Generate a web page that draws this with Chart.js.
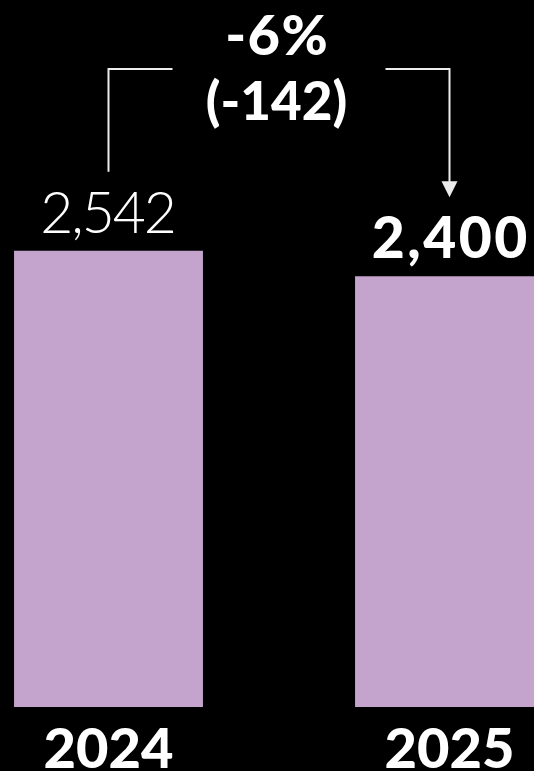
<!DOCTYPE html>
<html lang="en">
<head>
    <meta charset="UTF-8">
    <title>2024 vs 2025</title>
    <style>
        * { margin: 0; padding: 0; box-sizing: border-box; }
        body {
            background: #000;
            width: 534px;
            height: 771px;
            overflow: hidden;
            position: relative;
        }
        /* chart is a bit wider than the window so the second bar runs off the right edge */
        .chart-box {
            position: absolute;
            left: -62px;
            top: 0;
            width: 682px;
            height: 771px;
        }
    </style>
</head>
<body>
    <div class="chart-box">
        <canvas id="yearChart"></canvas>
    </div>

    <script src="https://cdn.jsdelivr.net/npm/chart.js"></script>
    <script>
        const years = ['2024', '2025'];
        const totals = [2542, 2400];
        const changePct = '-6%';
        const changeAbs = '(-142)';

        const barColor = '#c4a3cc';
        const lineColor = '#ececec';

        // centred text with letter spacing (trailing space would push it left)
        function spacedText(ctx, text, x, y, spacing) {
            ctx.letterSpacing = spacing + 'px';
            ctx.fillText(text, x + spacing / 2, y);
            ctx.letterSpacing = '0px';
        }

        // value labels, change note and bracket arrow
        const notesPlugin = {
            id: 'notes',
            afterDraw(chart) {
                const ctx = chart.ctx;
                const bars = chart.getDatasetMeta(0).data;
                const b1 = bars[0], b2 = bars[1];

                ctx.save();
                ctx.fillStyle = '#fff';
                ctx.textAlign = 'center';
                ctx.textBaseline = 'alphabetic';

                ctx.font = '300 57px Lato';
                spacedText(ctx, totals[0].toLocaleString('en-US'), b1.x, b1.y - 18, -2);
                ctx.font = '900 57px Lato';
                spacedText(ctx, totals[1].toLocaleString('en-US'), b2.x, b2.y - 18, 2.5);

                const midX = (b1.x + b2.x) / 2 - 2.5;
                ctx.font = '900 56px Lato';
                spacedText(ctx, changePct, midX, 55, 1.5);
                ctx.font = '900 53px Lato';
                spacedText(ctx, changeAbs, midX, 120, 0);

                // bracket
                const lineY = 69;
                ctx.strokeStyle = lineColor;
                ctx.lineWidth = 2;
                ctx.beginPath();
                ctx.moveTo(b1.x, b1.y - 79);
                ctx.lineTo(b1.x, lineY);
                ctx.lineTo(midX - 104, lineY);
                ctx.moveTo(midX + 109, lineY);
                ctx.lineTo(b2.x, lineY);
                ctx.lineTo(b2.x, b2.y - 92);
                ctx.stroke();

                // arrow head
                const tip = b2.y - 79;
                ctx.fillStyle = lineColor;
                ctx.beginPath();
                ctx.moveTo(b2.x - 8, tip - 16);
                ctx.lineTo(b2.x + 8, tip - 16);
                ctx.lineTo(b2.x, tip);
                ctx.closePath();
                ctx.fill();
                ctx.restore();
            }
        };

        new Chart(document.getElementById('yearChart'), {
            type: 'bar',
            data: {
                labels: years,
                datasets: [{
                    data: totals,
                    backgroundColor: barColor,
                    borderWidth: 0,
                    categoryPercentage: 1,
                    barPercentage: 0.554
                }]
            },
            options: {
                responsive: true,
                maintainAspectRatio: false,
                animation: false,
                layout: { padding: 0 },
                plugins: {
                    legend: { display: false },
                    tooltip: { enabled: false }
                },
                scales: {
                    x: {
                        grid: { display: false, drawTicks: false },
                        border: { display: false },
                        ticks: {
                            color: '#fff',
                            padding: 15,
                            font: { family: 'Lato', weight: '900', size: 56, lineHeight: 1 }
                        },
                        afterFit(scale) {
                            scale.height = 64;
                        }
                    },
                    y: {
                        display: false,
                        min: 0,
                        max: 3940
                    }
                }
            },
            plugins: [notesPlugin]
        });
    </script>
</body>
</html>
